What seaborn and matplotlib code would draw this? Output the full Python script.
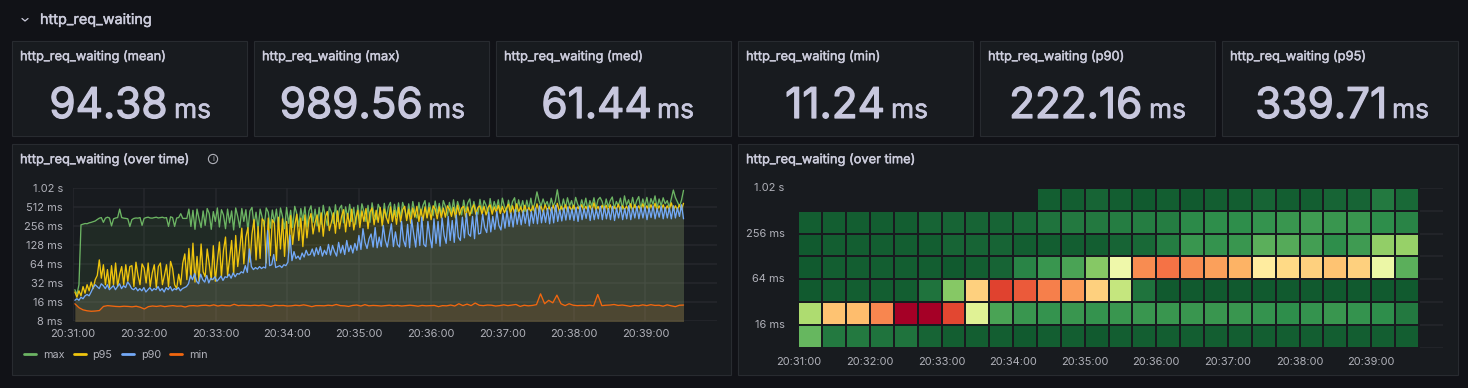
import numpy as np
import matplotlib
matplotlib.use("Agg")
import matplotlib.pyplot as plt
import matplotlib.patheffects as pe
from matplotlib.patches import Rectangle, Circle
from matplotlib.colors import LinearSegmentedColormap
import seaborn as sns

section_title = "http_req_waiting"
stat_titles = ["http_req_waiting (mean)", "http_req_waiting (max)", "http_req_waiting (med)",
               "http_req_waiting (min)", "http_req_waiting (p90)", "http_req_waiting (p95)"]
stat_values = ["94.38", "989.56", "61.44", "11.24", "222.16", "339.71"]
stat_unit = "ms"
chart_title = "http_req_waiting (over time)"
minute_labels = ["20:31:00", "20:32:00", "20:33:00", "20:34:00", "20:35:00",
                 "20:36:00", "20:37:00", "20:38:00", "20:39:00"]
line_ticks = [8, 16, 32, 64, 128, 256, 512, 1024]
line_tick_labels = ["8 ms", "16 ms", "32 ms", "64 ms", "128 ms", "256 ms", "512 ms", "1.02 s"]
heat_tick_rows = [0, 2, 4, 6]
heat_tick_labels = ["1.02 s", "256 ms", "64 ms", "16 ms"]

max_ms = [
 25,21,30,265,272,278,276,285,290,298,305,322,338,345,290,338,350,340,255,330,
 340,345,470,345,338,335,330,250,320,335,340,338,345,260,335,345,350,340,338,345,
 350,340,345,350,340,345,250,355,345,250,340,345,398,335,335,335,470,250,450,225,
 470,330,240,440,260,480,400,225,430,300,490,245,460,380,230,470,285,440,220,490,
 360,240,480,300,460,215,440,500,265,420,225,470,350,250,490,420,235,455,290,470,
 240,490,360,230,500,280,450,240,520,400,250,480,310,510,245,440,530,290,470,255,
 500,270,540,360,260,510,420,280,550,300,480,540,285,510,340,560,300,500,270,540,
 310,570,430,300,540,290,590,380,320,560,470,290,580,340,510,600,320,560,360,590,
 340,600,470,330,570,350,620,420,340,600,380,540,640,350,590,450,370,630,400,580,
 380,640,520,370,600,410,660,400,620,480,380,650,430,590,680,400,620,450,390,670,
 430,640,540,400,690,440,620,470,660,410,700,520,430,650,460,620,710,430,660,470,
 640,430,650,470,700,450,600,880,640,520,680,540,620,480,700,520,620,950,600,470,
 680,490,710,520,640,470,720,560,480,660,500,700,460,640,520,710,480,660,720,620,
 470,680,510,640,730,480,620,530,700,470,760,540,660,490,720,500,640,740,480,680,
 520,720,480,690,560,760,490,680,530,710,570,640,500,690,940,720,610,520,650,930,
]
p95_ms = [
 23,19,24,20,28,22,30,24,33,26,36,42,74,38,62,30,52,27,60,30,
 66,28,44,58,30,62,34,58,60,28,68,42,30,64,55,32,66,28,46,62,
 27,58,66,30,42,62,28,70,54,30,26,44,30,66,92,36,112,38,136,33,
 84,34,132,48,40,110,64,36,124,34,72,142,40,105,170,42,76,150,44,180,
 58,110,235,64,170,240,68,190,320,74,250,78,330,300,66,340,86,320,280,72,
 350,110,330,84,300,95,370,130,260,390,150,340,120,380,165,320,400,190,290,380,
 205,410,175,350,430,215,290,410,195,440,230,360,460,205,400,250,470,220,340,450,
 240,440,300,480,230,420,490,265,450,290,500,255,470,350,280,510,300,450,270,500,
 295,460,520,310,470,280,490,350,520,300,470,310,510,340,500,320,530,470,330,510,
 340,490,350,530,470,360,500,340,540,380,490,520,350,510,370,480,550,390,500,530,
 390,520,380,500,550,390,510,420,540,400,520,410,490,560,400,530,400,570,420,510,
 410,540,420,500,430,530,410,570,440,520,420,550,450,510,430,540,430,580,430,520,
 440,550,430,520,450,540,440,510,460,550,440,520,450,540,440,590,450,520,440,540,
 450,540,440,550,450,520,460,560,440,530,460,520,450,570,440,550,460,530,450,570,
 460,530,450,550,460,580,450,530,460,550,450,530,460,590,450,530,460,550,460,580,
]
p90_ms = [
 17,18,17,19,18,20,21,20,23,27,30,28,26,31,29,26,30,25,27,29,
 25,28,31,26,29,27,33,30,26,25,27,24,26,24,27,23,25,27,24,26,
 25,28,24,26,23,27,25,28,24,26,25,27,24,26,27,28,31,42,36,45,
 34,31,44,36,33,42,32,38,36,40,34,37,41,35,40,39,44,38,46,40,
 45,44,48,46,60,47,110,58,52,56,53,58,54,57,55,215,60,62,90,56,
 58,60,56,62,60,68,182,72,100,78,85,75,95,82,105,88,90,110,85,115,
 90,120,85,105,90,130,88,125,100,85,140,95,125,90,150,100,125,95,135,105,
 180,108,230,140,112,160,190,118,240,115,170,120,260,150,118,180,275,120,205,130,
 118,300,150,120,270,115,320,190,118,290,125,350,130,120,300,170,115,330,135,300,
 122,340,180,135,360,150,310,140,380,170,150,350,165,400,190,175,360,160,420,190,
 195,390,240,200,420,205,360,225,430,260,220,400,235,440,250,410,245,460,270,420,
 265,440,280,460,255,430,280,490,275,530,285,450,290,480,275,500,285,540,300,460,
 305,490,315,510,320,470,310,500,300,520,320,480,335,510,310,490,320,470,330,520,
 320,510,330,480,320,520,310,490,340,510,320,480,330,530,320,490,340,520,330,500,
 340,510,320,490,345,530,330,480,350,520,330,500,340,490,330,530,340,490,360,550,330,
]
min_ms = [
 15,13,12,11.6,11.4,11.5,11.7,13.6,14,13.8,13.6,13.5,13.7,13.6,13.4,
 13.7,13.2,12.4,13.5,13.8,13.6,13.9,13.5,13.8,14,13.7,13.8,13.3,13.9,14,
 13.8,14.1,14.2,13.9,14.4,13.8,14.2,14,13.9,14.7,14,14.2,14.1,14,14.2,
 14,14.3,14,13.6,14.2,14,14.1,13.8,13.9,14.2,14,14.4,14,13.5,14,
 14,13.9,14.2,14,14.6,14,13.9,13.6,14.1,14.3,13.8,14.5,13.9,14.1,14,
 13.8,14,14.2,13.9,14.1,13.8,14,14.2,14,13.7,14.1,13.9,14,14.1,13.5,
 14,13.9,14.3,13.8,15,14,14.8,14,15.4,14.2,14,14.3,14.2,13.8,14,
 14.4,14,14.3,14.6,13.6,14.2,13.9,14.1,14.5,21.5,15,17,15.5,20.5,15,
 14,15,14.2,14,14.1,14,14.2,13.9,21,14,14.2,14.3,14.6,14.1,14.3,
 14,13.6,14.1,13.9,14.4,14,14.5,14.1,14.2,13.7,14.4,13.9,13.5,14.2,14.3,
]
series_names = ["max", "p95", "p90", "min"]
series_values = [max_ms, p95_ms, p90_ms, min_ms]
series_colors = ["#6CB463", "#EFC50E", "#73A9F7", "#F2670F"]

n = np.nan
heat_r0 = [n,n,n,n,n,n,n,n,n,n,.01,.01,.02,.01,0,.01,0,.01,.01,.02,.01,.01,.02,.02,.06,.03]
heat_r1 = [.01,.01,.01,.01,.01,.02,.02,.02,.02,.03,.05,.06,.06,.07,.07,.07,.09,.10,.10,.11,.12,.13,.12,.12,.10,.08]
heat_r2 = [0,.01,.01,.01,.01,.01,.02,.02,.02,.01,.01,.01,.01,.02,.03,.07,.12,.11,.12,.18,.17,.14,.10,.13,.27,.28]
heat_r3 = [0,.01,.01,.01,.01,.01,0,.01,.02,.08,.12,.15,.25,.46,.75,.79,.75,.72,.69,.56,.61,.63,.66,.63,.45,.18]
heat_r4 = [0,.01,.01,.01,.01,.05,.25,.63,.87,.83,.77,.73,.63,.36,.05,0,0,0,0,0,0,0,0,0,0,0]
heat_r5 = [.32,.66,.67,.76,1,1,.86,.42,.15,.12,.11,.12,.11,.12,.12,.12,.12,.12,.12,.11,.10,.11,.12,.11,.10,.06]
heat_r6 = [.20,.06,.06,.05,.05,.02,.01,.01,.01,0,.01,.01,0,.01,.01,.01,.01,.01,.01,.01,.01,.01,.01,.01,.01,.01]
heat_colors = ["#115a2f", "#2f8f4c", "#66b75f", "#a5d86a", "#d9ef8b", "#ffffbf",
               "#ffe08b", "#fdae61", "#f46d43", "#d73027", "#a50026"]

PAGE = "#111217"
PANEL = "#181b1f"
BORDER = "#282b30"
TEXT = "#ccccdc"
BIG = "#c8c8de"
AXIS = "#b0b1b9"
GRID = "#26282d"
W, H = 1468, 388

sns.set_theme(style="dark", rc={"figure.facecolor": PAGE, "savefig.facecolor": PAGE})
plt.rcParams["font.family"] = ["Inter", "DejaVu Sans"]

fig = plt.figure(figsize=(W / 100, H / 100), dpi=100)

def px_axes(l, t, r, b):
    return fig.add_axes([l / W, 1 - b / H, (r - l) / W, (b - t) / H])

def heavy(width, color):
    return [pe.withStroke(linewidth=width, foreground=color)]

bg = fig.add_axes([0, 0, 1, 1])
bg.set_xlim(0, W); bg.set_ylim(H, 0); bg.axis("off")

stat_boxes = [(12, 247), (254, 489), (496, 731), (738, 973), (980, 1215), (1222, 1458)]
value_right = [167.5, 422.5, 652, 885, 1142, 1387]
unit_left = [174, 428, 657, 891, 1149, 1392]
for (l, r), title, val, vr, ul in zip(stat_boxes, stat_titles, stat_values, value_right, unit_left):
    bg.add_patch(Rectangle((l, 41), r - l, 95, fc=PANEL, ec=BORDER, lw=.8))
    bg.text(l + 8, 57, title, color=TEXT, fontsize=9.25, va="center", ha="left",
            path_effects=heavy(.3, TEXT))
    bg.text(vr, 118, val, color=BIG, fontsize=30.5, va="baseline", ha="right",
            path_effects=heavy(.9, BIG))
    bg.text(ul, 118, stat_unit, color=BIG, fontsize=19, va="baseline", ha="left",
            path_effects=heavy(.4, BIG))

for l, r in [(12, 731), (738, 1458)]:
    bg.add_patch(Rectangle((l, 144), r - l, 231, fc=PANEL, ec=BORDER, lw=.8))
    bg.text(l + 8, 160, chart_title, color=TEXT, fontsize=9.25, va="center", ha="left",
            path_effects=heavy(.3, TEXT))

bg.plot([22, 25, 28], [18.5, 21, 18.5], color=TEXT, lw=.9)
bg.text(40, 20, section_title, color=TEXT, fontsize=10.4, va="center", ha="left",
        path_effects=heavy(.3, TEXT))
bg.add_patch(Circle((213, 159), 4.6, fc="none", ec=AXIS, lw=.8))
bg.text(213, 159, "i", color=AXIS, fontsize=5.5, va="center", ha="center")

# ---- time series panel ----
ax = px_axes(72.5, 187.7, 716.7, 321)
ax.set_facecolor("none")
t_start, t_end = 2.0, 512.0
for name, vals, col in zip(series_names, series_values, series_colors):
    times = np.linspace(t_start, t_end, len(vals))
    ax.fill_between(times, 1, vals, color=col, alpha=.1, lw=0)
    sns.lineplot(x=times, y=vals, ax=ax, color=col, linewidth=.95, estimator=None,
                 sort=False, errorbar=None, label=name)
ax.set_yscale("log", base=2)
ax.set_ylim(line_ticks[0], line_ticks[-1])
ax.set_xlim(0, 539.8)
ax.set_xticks(np.arange(len(minute_labels)) * 60, minute_labels)
ax.set_yticks(line_ticks, line_tick_labels)
ax.minorticks_off()
ax.set_xlabel(""); ax.set_ylabel("")
ax.grid(True, color=GRID, lw=1.1)
ax.set_axisbelow(True)
ax.tick_params(axis="both", colors=AXIS, labelsize=7.95, length=2.5, width=.8, color=GRID, pad=3)
ax.tick_params(axis="y", length=3, pad=4)
for s in ax.spines.values():
    s.set_visible(False)
leg = ax.legend(loc="center left", bbox_to_anchor=(24, 355), bbox_transform=bg.transData,
                ncol=4, frameon=False, fontsize=7.8, borderpad=0, borderaxespad=0,
                handlelength=1.15, handletextpad=.6, columnspacing=.85, labelcolor=AXIS)
for h in leg.get_lines():
    h.set_linewidth(2.0)

# ---- heatmap panel ----
heat = np.array([heat_r0, heat_r1, heat_r2, heat_r3, heat_r4, heat_r5, heat_r6], dtype=float)
cmap = LinearSegmentedColormap.from_list("grafana", heat_colors)
hx = px_axes(798.3, 188, 1442.7, 347.7)
hx.set_facecolor("none")
sns.heatmap(heat, ax=hx, cmap=cmap, vmin=0, vmax=1, cbar=False, linewidths=1.25, linecolor=PANEL,
            mask=np.isnan(heat), square=False)
hx.set_xlim(0, 27)
hx.set_ylim(7, 0)
hx.set_xticks(np.arange(len(minute_labels)) * 3, minute_labels, rotation=0)
hx.set_yticks(heat_tick_rows, heat_tick_labels, rotation=0)
hx.set_yticks(np.arange(8), minor=True)
hx.grid(True, which="major", color=GRID, lw=1.1)
hx.grid(True, which="minor", axis="y", color=GRID, lw=1.1)
hx.set_axisbelow(True)
hx.tick_params(axis="both", which="both", colors=AXIS, labelsize=7.95, width=.8, color=GRID)
hx.tick_params(axis="y", which="both", length=6, pad=4)
hx.tick_params(axis="x", length=3, pad=4)
for s in hx.spines.values():
    s.set_visible(False)

fig.savefig("out.png", dpi=100, facecolor=PAGE)
